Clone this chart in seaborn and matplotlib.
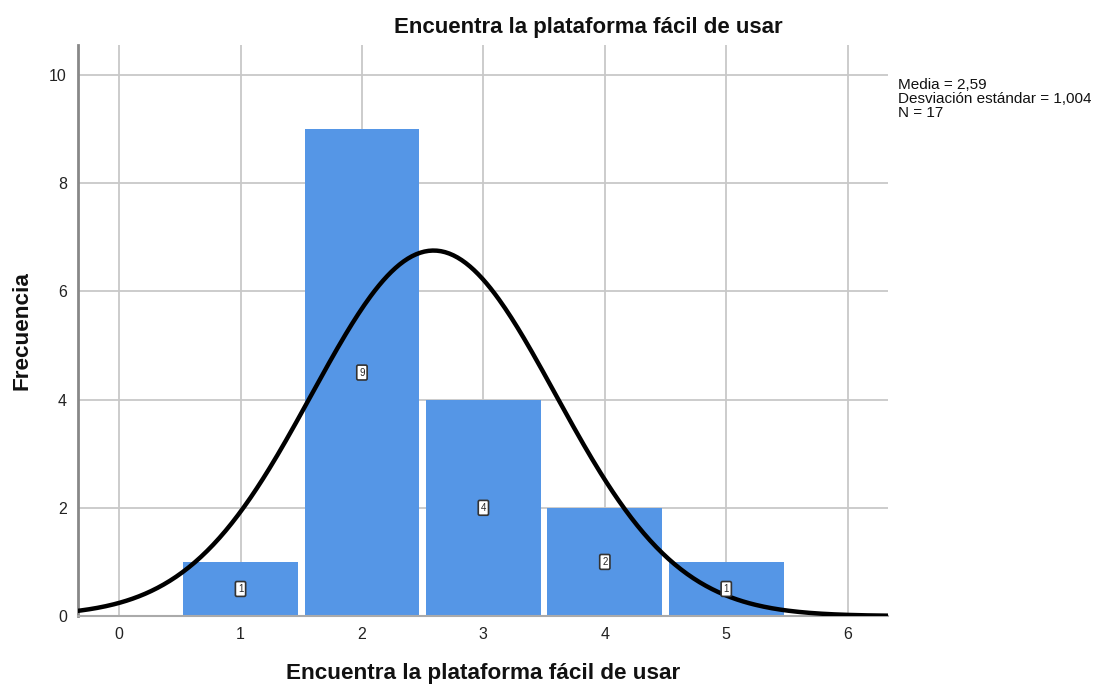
import numpy as np
import pandas as pd
import matplotlib
matplotlib.use("Agg")
import matplotlib.pyplot as plt
import seaborn as sns

# Data
categories = [1, 2, 3, 4, 5]
counts = [1, 9, 4, 2, 1]
mean_val = 2.59
sd_val = 1.004
n_val = 17
x_ticks = [0, 1, 2, 3, 4, 5, 6]
y_ticks = [0, 2, 4, 6, 8, 10]
title = "Encuentra la plataforma fácil de usar"
xlabel = "Encuentra la plataforma fácil de usar"
ylabel = "Frecuencia"
stats_text = "Media = 2,59\nDesviación estándar = 1,004\nN = 17"

sns.set_theme(style="white")
plt.rcParams['font.family'] = ['Liberation Sans', 'DejaVu Sans']

fig = plt.figure(figsize=(10.96, 6.85), dpi=100)
ax = fig.add_axes([0.0712, 0.1007, 0.810 - 0.0712, 0.934 - 0.1007])

df = pd.DataFrame({"valor": categories, "n": counts})
sns.histplot(data=df, x="valor", weights="n", discrete=True, shrink=0.945,
             color="#5596E6", edgecolor="none", alpha=1.0, ax=ax, zorder=2)

xs = np.linspace(-0.4, 6.4, 400)
binw = 1.0
ys = n_val * binw / (sd_val * np.sqrt(2 * np.pi)) * np.exp(-0.5 * ((xs - mean_val) / sd_val) ** 2)
sns.lineplot(x=xs, y=ys, color="black", linewidth=3.2, ax=ax, zorder=4)

for c, v in zip(categories, counts):
    ax.text(c, v / 2, str(v), ha="center", va="center", fontsize=7, zorder=5,
            bbox=dict(boxstyle="round,pad=0.25,rounding_size=0.15", fc="white", ec="#333333", lw=1.2))

ax.set_xlim(-0.338, 6.33)
ax.set_ylim(0, 10.55)
ax.set_xticks(x_ticks)
ax.set_yticks(y_ticks)
ax.set_xticklabels([str(t) for t in x_ticks], fontsize=11.5)
ax.set_yticklabels([str(t) for t in y_ticks], fontsize=11.5)
ax.tick_params(axis="both", length=0, pad=8, colors="#222222")
ax.grid(True, color="#c8c8c8", linewidth=1.3, zorder=0)
ax.set_axisbelow(True)
for s in ["top", "right"]:
    ax.spines[s].set_visible(False)
ax.spines["left"].set_color("#888888")
ax.spines["left"].set_linewidth(2)
ax.spines["bottom"].set_color("#aaaaaa")
ax.spines["bottom"].set_linewidth(1.5)

fig.text(588 / 1096, 1 - 28 / 685, title, fontsize=16, fontweight="bold",
         ha="center", va="center", color="#111111")
ax.set_xlabel(xlabel, fontsize=16.2, fontweight="bold", labelpad=15, color="#111111")
ax.set_ylabel(ylabel, fontsize=16.2, fontweight="bold", color="#111111")
ax.yaxis.set_label_coords(-0.056, 0.5)

fig.text(0.819, 0.886, stats_text, fontsize=11, va="top", ha="left", linespacing=0.98,
         color="#111111")

fig.savefig("out.png", dpi=100)
